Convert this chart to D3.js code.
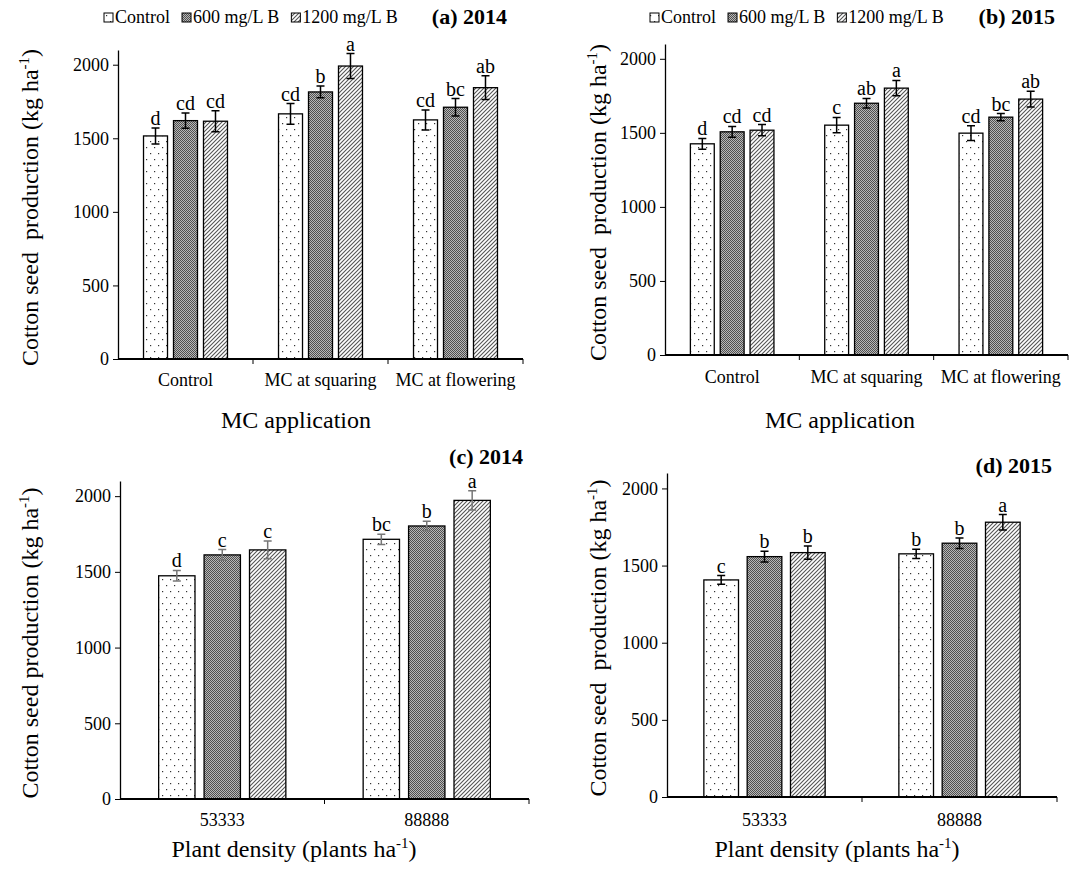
<!DOCTYPE html>
<html>
<head>
<meta charset="utf-8">
<script src="https://cdn.jsdelivr.net/npm/d3@7"></script>
<style>
body { margin: 0; background: #fff; }
svg { font-family: "Liberation Serif", "Times New Roman", serif; }
text { white-space: pre; }
</style>
</head>
<body>
<svg id="chart" width="1078" height="869"></svg>
<script>
// data
const seriesNames = ["Control", "600 mg/L B", "1200 mg/L B"];
const mcCategories = ["Control", "MC at squaring", "MC at flowering"];
const densityCategories = ["53333", "88888"];
const yTicks = [0, 500, 1000, 1500, 2000];

const a2014Values  = [[1516, 1620, 1616], [1666, 1815, 1991], [1625, 1711, 1844]];
const a2014Errors  = [[54, 52, 71], [70, 40, 85], [68, 59, 81]];
const a2014Letters = [["d", "cd", "cd"], ["cd", "b", "a"], ["cd", "bc", "ab"]];

const b2015Values  = [[1426, 1507, 1518], [1552, 1700, 1802], [1498, 1606, 1728]];
const b2015Errors  = [[36, 36, 38], [52, 32, 52], [50, 24, 53]];
const b2015Letters = [["d", "cd", "cd"], ["c", "ab", "a"], ["cd", "bc", "ab"]];

const c2014Values  = [[1474, 1612, 1645], [1715, 1803, 1972]];
const c2014Errors  = [[35, 35, 58], [34, 31, 64]];
const c2014Letters = [["d", "c", "c"], ["bc", "b", "a"]];

const d2015Values  = [[1407, 1558, 1584], [1576, 1645, 1781]];
const d2015Errors  = [[28, 35, 43], [30, 34, 50]];
const d2015Letters = [["c", "b", "b"], ["b", "b", "a"]];

const svg = d3.select("#chart");
const defs = svg.append("defs");

// fill patterns like the excel ones
let p = defs.append("pattern").attr("id", "pat0").attr("patternUnits", "userSpaceOnUse")
	.attr("width", 8).attr("height", 12);
p.append("rect").attr("width", 8).attr("height", 12).attr("fill", "#fff");
p.append("rect").attr("x", 2).attr("y", 3).attr("width", 1.2).attr("height", 1.2).attr("fill", "#333");
p.append("rect").attr("x", 6).attr("y", 9).attr("width", 1.2).attr("height", 1.2).attr("fill", "#333");

p = defs.append("pattern").attr("id", "pat1").attr("patternUnits", "userSpaceOnUse")
	.attr("width", 2).attr("height", 2);
p.append("rect").attr("width", 2).attr("height", 2).attr("fill", "#b8b8b8");
p.append("rect").attr("width", 1).attr("height", 1).attr("fill", "#505050");
p.append("rect").attr("x", 1).attr("y", 1).attr("width", 1).attr("height", 1).attr("fill", "#505050");

p = defs.append("pattern").attr("id", "pat2").attr("patternUnits", "userSpaceOnUse")
	.attr("width", 4).attr("height", 4);
p.append("rect").attr("width", 4).attr("height", 4).attr("fill", "#fff");
p.append("path").attr("d", "M-1,1 l2,-2 M0,4 l4,-4 M3,5 l2,-2")
	.attr("stroke", "#555").attr("stroke-width", 1.1);

const fills = ["url(#pat0)", "url(#pat1)", "url(#pat2)"];

const panels = [
	{values: a2014Values, errors: a2014Errors, letters: a2014Letters, cats: mcCategories,
	 left: 118, right: 523, top: 50, bottom: 359, ytitleX: 30, xtitle: "MC application", xtitleX: 296, xtitleY: 428,
	 catY: 386, tag: "(a) 2014", tagX: 507, tagY: 24, legendX: 104, ytitle: "Cotton seed  production", err: "#000"},
	{values: b2015Values, errors: b2015Errors, letters: b2015Letters, cats: mcCategories,
	 left: 665, right: 1068, top: 44, bottom: 355, ytitleX: 598, xtitle: "MC application", xtitleX: 840, xtitleY: 428,
	 catY: 383, tag: "(b) 2015", tagX: 1055, tagY: 24, legendX: 650, ytitle: "Cotton seed  production", err: "#000"},
	{values: c2014Values, errors: c2014Errors, letters: c2014Letters, cats: densityCategories,
	 left: 120, right: 529, top: 481, bottom: 799, ytitleX: 30, xtitle: "Plant density (plants ha", xtitleX: 294, xtitleY: 857,
	 catY: 826, tag: "(c) 2014", tagX: 523, tagY: 464, ytitle: "Cotton seed production", err: "#777"},
	{values: d2015Values, errors: d2015Errors, letters: d2015Letters, cats: densityCategories,
	 left: 667, right: 1057, top: 473, bottom: 797, ytitleX: 598, xtitle: "Plant density (plants ha", xtitleX: 837, xtitleY: 857,
	 catY: 826, tag: "(d) 2015", tagX: 1052, tagY: 473, ytitle: "Cotton seed  production", err: "#000"}
];

function draw_panel(cfg) {
	let g = svg.append("g");

	let y = d3.scaleLinear().domain([0, 2100]).range([cfg.bottom, cfg.top]);
	let x0 = d3.scaleBand().domain(cfg.cats).range([cfg.left, cfg.right]).padding(0);
	let groupW = x0.bandwidth() * 0.622;

	// y axis
	let yAxis = g.append("g")
		.attr("transform", "translate(" + cfg.left + ",0)")
		.call(d3.axisLeft(y).tickValues(yTicks).tickFormat(d3.format("d"))
			.tickSize(5).tickSizeOuter(0).tickPadding(4));
	yAxis.attr("font-family", "Liberation Serif").attr("font-size", 18);
	yAxis.select(".domain").attr("stroke", "#000").attr("stroke-width", 1.3);
	yAxis.selectAll(".tick line").attr("stroke", "#000").attr("stroke-width", 1);
	yAxis.selectAll("text").attr("font-size", 18).attr("font-family", "Liberation Serif").attr("fill", "#000");

	// bars
	cfg.cats.forEach((c, i) => {
		let cx = x0(c) + x0.bandwidth() / 2;
		let x1 = d3.scaleBand().domain(seriesNames)
			.range([cx - groupW / 2, cx + groupW / 2]).paddingInner(0.2).paddingOuter(0);
		seriesNames.forEach((s, j) => {
			let v = cfg.values[i][j];
			let e = cfg.errors[i][j];
			let bx = x1(s);
			let bw = x1.bandwidth();
			g.append("rect")
				.attr("x", bx).attr("y", y(v))
				.attr("width", bw).attr("height", y(0) - y(v))
				.attr("fill", fills[j]).attr("stroke", "#000").attr("stroke-width", 1.3);
			let mx = bx + bw / 2;
			g.append("path")
				.attr("d", "M" + mx + "," + y(v + e) + "V" + y(v - e) +
					"M" + (mx - 4) + "," + y(v + e) + "H" + (mx + 4) +
					"M" + (mx - 4) + "," + y(v - e) + "H" + (mx + 4))
				.attr("stroke", cfg.err).attr("stroke-width", 1.5).attr("fill", "none");
			g.append("text")
				.attr("x", mx).attr("y", y(v + e) - 3)
				.attr("text-anchor", "middle").attr("font-size", 20)
				.text(cfg.letters[i][j]);
		});
	});

	// x axis with ticks between categories
	let xAxis = g.append("g").attr("transform", "translate(0," + cfg.bottom + ")");
	xAxis.append("path")
		.attr("d", "M" + cfg.left + ",0H" + cfg.right)
		.attr("stroke", "#000").attr("stroke-width", 2);
	let bounds = cfg.cats.map(c => x0(c)).slice(1).concat([cfg.right]);
	xAxis.selectAll(".xt").data(bounds).join("line")
		.attr("x1", d => d).attr("x2", d => d).attr("y1", 0).attr("y2", 5)
		.attr("stroke", "#000").attr("stroke-width", 1);
	g.selectAll(".cat").data(cfg.cats).join("text")
		.attr("x", d => x0(d) + x0.bandwidth() / 2).attr("y", cfg.catY)
		.attr("text-anchor", "middle").attr("font-size", 18)
		.text(d => d);

	// axis titles
	let xt = g.append("text").attr("x", cfg.xtitleX).attr("y", cfg.xtitleY)
		.attr("text-anchor", "middle").attr("font-size", 24);
	if (cfg.xtitle.endsWith("ha")) {
		xt.append("tspan").text(cfg.xtitle);
		xt.append("tspan").attr("font-size", 15).attr("dy", -9).text("-1");
		xt.append("tspan").attr("dy", 9).text(")");
	} else {
		xt.text(cfg.xtitle);
	}

	let yc = (cfg.top + cfg.bottom) / 2 + 3;
	let yt = g.append("text")
		.attr("transform", "translate(" + (cfg.ytitleX + 8) + "," + yc + ") rotate(-90)")
		.attr("text-anchor", "middle").attr("font-size", 24);
	yt.append("tspan").text(cfg.ytitle + " (kg ha");
	yt.append("tspan").attr("font-size", 15).attr("dy", -9).text("-1");
	yt.append("tspan").attr("dy", 9).text(")");

	// panel tag
	g.append("text").attr("x", cfg.tagX).attr("y", cfg.tagY)
		.attr("text-anchor", "end").attr("font-size", 22).attr("font-weight", "bold")
		.text(cfg.tag);

	// legend
	if (cfg.legendX !== undefined) {
		let lx = cfg.legendX;
		seriesNames.forEach((s, j) => {
			g.append("rect").attr("x", lx).attr("y", 13).attr("width", 9).attr("height", 9)
				.attr("fill", fills[j]).attr("stroke", "#000").attr("stroke-width", 1);
			let t = g.append("text").attr("x", lx + 11).attr("y", 23)
				.attr("font-size", 18).text(s);
			lx += 11 + t.node().getComputedTextLength() + 12;
		});
	}
}

panels.forEach(draw_panel);
</script>
</body>
</html>
